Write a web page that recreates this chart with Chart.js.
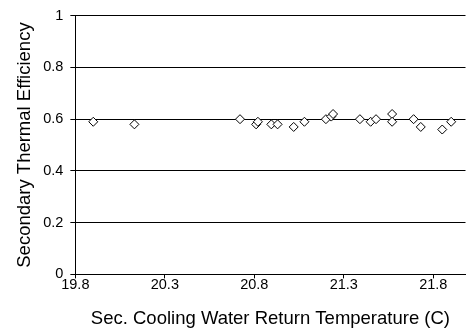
<!DOCTYPE html>
<html>
<head>
<meta charset="utf-8">
<script src="https://cdn.jsdelivr.net/npm/chart.js@4.4.0/dist/chart.umd.min.js"></script>
<style>
	html, body { margin: 0; padding: 0; background: #fff; }
	#wrap { width: 471px; height: 330px; }
</style>
</head>
<body>
<div id="wrap"><canvas id="chart"></canvas></div>
<script>
// Return temperature (C) and matching secondary thermal efficiency
const returnTemp = [
	19.90, 20.13, 20.72, 20.81, 20.82, 20.895, 20.93, 21.02, 21.08, 21.20,
	21.23, 21.24, 21.39, 21.45, 21.48, 21.57, 21.57, 21.69, 21.73, 21.85, 21.90,
];
const efficiency = [
	0.59, 0.58, 0.60, 0.58, 0.59, 0.58, 0.58, 0.57, 0.59, 0.60,
	0.61, 0.62, 0.60, 0.59, 0.60, 0.62, 0.59, 0.60, 0.57, 0.56, 0.59,
];
const xTicks = [19.8, 20.3, 20.8, 21.3, 21.8];
const yTicks = [0, 0.2, 0.4, 0.6, 0.8, 1];

Chart.defaults.font.family = "'Liberation Sans', Arial, sans-serif";
Chart.defaults.font.size = 14.5;
Chart.defaults.color = "#000";

const points = returnTemp.map((t, i) => ({ x: t, y: efficiency[i] }));

new Chart(document.getElementById("chart").getContext("2d"), {
	type: "scatter",
	data: {
		datasets: [
			{
				label: "Efficiency",
				data: points,
				pointStyle: "rectRot",
				pointRadius: 4.5,
				pointBorderWidth: 1,
				pointBorderColor: "#000",
				pointBackgroundColor: "#fff",
			},
		],
	},
	options: {
		responsive: true,
		maintainAspectRatio: false,
		animation: false,
		layout: { padding: { top: 8, right: 0, left: 14, bottom: 0 } },
		plugins: {
			legend: { display: false },
			tooltip: { enabled: false },
		},
		scales: {
			x: {
				type: "linear",
				min: 19.8,
				max: 21.98,
				afterBuildTicks: (axis) => {
					axis.ticks = xTicks.map((v) => ({ value: v }));
				},
				ticks: {
					padding: -2,
					callback: (v) => v.toFixed(1),
				},
				grid: {
					drawOnChartArea: false,
					color: "#000",
					tickLength: 4,
				},
				border: { color: "#000", width: 1 },
				title: {
					display: true,
					text: "Sec. Cooling Water Return Temperature (C)",
					font: { size: 18.5 },
					padding: { top: 16, bottom: 0 },
				},
			},
			y: {
				min: 0,
				max: 1,
				afterBuildTicks: (axis) => {
					axis.ticks = yTicks.map((v) => ({ value: v }));
				},
				ticks: {
					padding: 7,
					callback: (v) => String(v),
				},
				grid: {
					color: "#000",
					tickLength: 5,
				},
				border: { color: "#000", width: 1 },
				title: {
					display: true,
					text: "Secondary Thermal Efficiency",
					font: { size: 18.5 },
					padding: { top: 0, bottom: 0 },
				},
			},
		},
	},
});
</script>
</body>
</html>
